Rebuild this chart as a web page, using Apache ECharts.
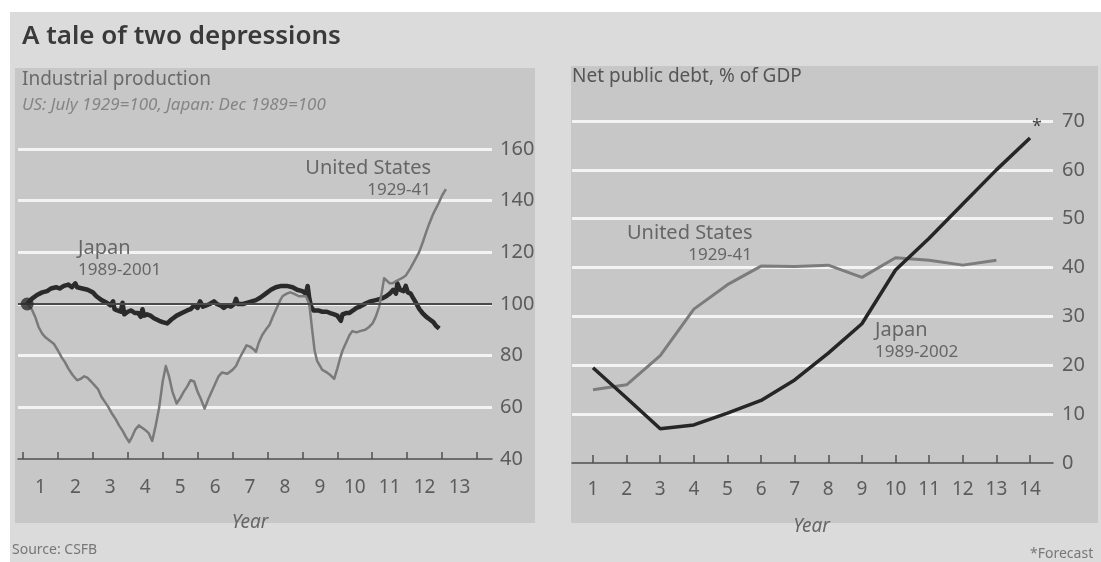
<!DOCTYPE html>
<html>
<head>
<meta charset="utf-8">
<title>A tale of two depressions</title>
<script src="https://cdn.jsdelivr.net/npm/echarts@6/dist/echarts.min.js"></script>
<style>
  html, body { margin: 0; padding: 0; background: #ffffff; }
  #chart { width: 1101px; height: 562px; }
</style>
</head>
<body>
<div id="chart"></div>
<script>
// ---- Industrial production (US: July 1929=100, Japan: Dec 1989=100) ----
const prodYearLabels = ['1', '2', '3', '4', '5', '6', '7', '8', '9', '10', '11', '12', '13'];
const prodTicks = [40, 60, 80, 100, 120, 140, 160];

// United States 1929-41, position in years and index level
const usProdYear = [0.62, 0.75, 0.85, 0.95, 1.05, 1.15, 1.25, 1.39, 1.5, 1.6, 1.7, 1.8, 1.92, 2.05, 2.15, 2.25, 2.34, 2.45, 2.55, 2.65, 2.75, 2.85, 2.95, 3.05, 3.15, 3.25, 3.35, 3.45, 3.54, 3.62, 3.72, 3.82, 3.92, 4.02, 4.1, 4.2, 4.3, 4.4, 4.5, 4.59, 4.68, 4.78, 4.9, 5.0, 5.1, 5.2, 5.3, 5.4, 5.5, 5.6, 5.7, 5.8, 5.9, 6.0, 6.1, 6.2, 6.35, 6.5, 6.6, 6.7, 6.8, 6.9, 7.0, 7.1, 7.17, 7.25, 7.35, 7.45, 7.56, 7.65, 7.75, 7.85, 7.93, 8.05, 8.15, 8.25, 8.4, 8.6, 8.7, 8.78, 8.85, 8.92, 9.07, 9.2, 9.3, 9.41, 9.5, 9.58, 9.65, 9.75, 9.85, 9.93, 10.05, 10.15, 10.3, 10.4, 10.51, 10.6, 10.7, 10.78, 10.84, 10.92, 11.0, 11.08, 11.2, 11.35, 11.46, 11.6, 11.72, 11.84, 11.95, 12.05, 12.13, 12.25, 12.4, 12.5, 12.61];
const usProdIndex = [100, 98, 95, 91, 88.5, 87, 86, 84.5, 82, 79.5, 77.5, 75, 72.5, 70.5, 71, 72, 71.5, 70, 68.5, 67, 64, 62, 60, 57.5, 55.5, 53, 51, 48.5, 46.5, 48.5, 51.5, 53, 52, 51, 50, 47, 53, 60, 70, 76, 72, 66, 61.5, 63.5, 66, 68, 70.5, 70, 66, 63, 59.5, 63, 66, 69, 72, 73.5, 73, 74.5, 76, 79, 81.5, 84, 83.5, 82.5, 81.5, 85, 88, 90, 92, 95, 98, 101, 103, 104, 104.5, 104, 103, 103, 100, 90, 82, 78, 74.5, 73.5, 72.5, 71, 75, 79, 82, 85, 88, 89.5, 89, 89.5, 90, 91, 92.5, 95, 99, 105, 110, 109, 108, 108, 109, 110, 111, 114, 117, 120, 124, 128, 131, 135, 139, 142, 144.5];

// Japan 1989-2001
const jpProdYear = [0.62, 0.75, 0.9, 1.05, 1.19, 1.3, 1.45, 1.55, 1.67, 1.8, 1.9, 2.0, 2.05, 2.2, 2.35, 2.5, 2.6, 2.75, 2.9, 3.0, 3.08, 3.12, 3.2, 3.3, 3.35, 3.4, 3.5, 3.6, 3.7, 3.8, 3.87, 3.92, 3.97, 4.05, 4.15, 4.25, 4.4, 4.5, 4.63, 4.75, 4.9, 5.05, 5.2, 5.3, 5.4, 5.5, 5.57, 5.65, 5.75, 5.85, 5.97, 6.05, 6.15, 6.25, 6.35, 6.45, 6.55, 6.6, 6.65, 6.8, 6.93, 7.05, 7.17, 7.3, 7.45, 7.6, 7.74, 7.9, 8.05, 8.22, 8.35, 8.5, 8.6, 8.65, 8.7, 8.75, 8.82, 8.95, 9.07, 9.2, 9.3, 9.41, 9.5, 9.55, 9.6, 9.65, 9.75, 9.84, 9.95, 10.05, 10.15, 10.32, 10.45, 10.6, 10.79, 10.9, 11.0, 11.1, 11.18, 11.22, 11.3, 11.4, 11.46, 11.52, 11.6, 11.65, 11.75, 11.85, 11.94, 12.05, 12.15, 12.25, 12.33, 12.42];
const jpProdIndex = [100, 102, 103.5, 104.5, 105, 106, 106.5, 106, 107, 107.5, 106.5, 108, 106.5, 106, 105.5, 104.5, 103, 101.5, 100.5, 99.5, 101, 98, 97.5, 97, 100.5, 96, 97, 97.5, 96.5, 96.5, 95, 98, 95.5, 96, 95.5, 94.5, 93.5, 93, 92.5, 94, 95.5, 96.5, 97.5, 98, 99.5, 98.5, 101, 99, 99.5, 100, 101, 100, 99.5, 98.5, 99.5, 99, 100, 102, 100, 100, 100.5, 101, 101.5, 102.5, 104, 105.5, 106.5, 107, 107, 106.5, 105.5, 105, 104, 107, 102, 99, 97.5, 97.5, 97, 97, 96.5, 96, 95.5, 95.5, 93.5, 96, 96.5, 96.5, 97.5, 98.5, 99, 100.3, 101, 101.5, 102.2, 103, 104, 105.5, 104, 108, 105.5, 105, 107, 104.5, 104, 102.8, 100.5, 98, 96.5, 95, 94, 93, 91.5, 90.5];

// ---- Net public debt, % of GDP ----
const debtYears = [1, 2, 3, 4, 5, 6, 7, 8, 9, 10, 11, 12, 13, 14];
const debtTicks = [0, 10, 20, 30, 40, 50, 60, 70];
const usDebt = [15, 16, 22, 31.5, 36.5, 40.3, 40.2, 40.5, 38, 42, 41.5, 40.5, 41.5];
const jpDebt = [19.5, 13.3, 7, 7.8, 10.2, 12.8, 17, 22.5, 28.5, 39.5, 46, 53, 60, 66.5];

const FONT = '"Noto Sans", "DejaVu Sans", sans-serif';
const labelColor = '#5c5c5c';
const noteColor = '#666666';
const gridWhite = '#f3f3f3';
const axisDark = '#505050';

const pairs = (xs, ys) => xs.map((x, i) => [x, ys[i]]);

const chart = echarts.init(document.getElementById('chart'), null, { renderer: 'canvas' });

// text placed over the plot area
const note = (x, y, text, size, align) => ({
  type: 'text', x: x, y: y, z: 100,
  style: { text: text, fill: noteColor, font: size + 'px ' + FONT, textAlign: align || 'left', textVerticalAlign: 'middle' }
});

chart.setOption({
  backgroundColor: '#dbdbdb',
  animation: false,
  graphic: [
    // page frame and panels
    { type: 'rect', z: -10, shape: { x: 0, y: 0, width: 1101, height: 12 }, style: { fill: '#ffffff' } },
    { type: 'rect', z: -10, shape: { x: 0, y: 0, width: 10, height: 562 }, style: { fill: '#ffffff' } },
    { type: 'rect', z: -9, shape: { x: 15, y: 68, width: 520, height: 455 }, style: { fill: '#c7c7c7' } },
    { type: 'rect', z: -9, shape: { x: 571, y: 66, width: 527, height: 457 }, style: { fill: '#c7c7c7' } },
    // headings
    { type: 'text', x: 22, y: 37, z: 100, style: { text: 'A tale of two depressions', fill: '#3a3a3a', font: '600 26px ' + FONT, textVerticalAlign: 'middle' } },
    { type: 'text', x: 22, y: 80, z: 100, style: { text: 'Industrial production', fill: '#6a6a6a', font: '19px ' + FONT, textVerticalAlign: 'middle' } },
    { type: 'text', x: 22, y: 105, z: 100, style: { text: 'US: July 1929=100, Japan: Dec 1989=100', fill: '#858585', font: 'italic 17px ' + FONT, textVerticalAlign: 'middle' } },
    { type: 'text', x: 572, y: 77, z: 100, style: { text: 'Net public debt, % of GDP', fill: '#555555', font: '19px ' + FONT, textVerticalAlign: 'middle' } },
    // series labels, left panel
    note(431, 168, 'United States', 20, 'right'),
    note(431, 190, '1929-41', 17, 'right'),
    note(78, 248, 'Japan', 20),
    note(78, 270, '1989-2001', 17),
    // series labels, right panel
    note(627, 233, 'United States', 20),
    note(752, 255, '1929-41', 17, 'right'),
    note(875, 330, 'Japan', 20),
    note(875, 352, '1989-2002', 17),
    // footnotes
    { type: 'text', x: 12, y: 550, z: 100, style: { text: 'Source: CSFB', fill: '#777777', font: '14px ' + FONT, textVerticalAlign: 'middle' } },
    { type: 'text', x: 1030, y: 554, z: 100, style: { text: '*Forecast', fill: '#777777', font: '14px ' + FONT, textVerticalAlign: 'middle' } }
  ],
  grid: [
    // 0: left panel, full width (gridlines, axis line, value labels)
    { left: 18, top: 149, width: 474, height: 310 },
    // 1: left panel, year ticks and data
    { left: 23, top: 149, width: 454, height: 310 },
    // 2: right panel, full width
    { left: 572, top: 121, width: 481, height: 342 },
    // 3: right panel, year ticks and data
    { left: 593, top: 121, width: 437, height: 342 }
  ],
  xAxis: [
    { gridIndex: 0, type: 'value', min: 0, max: 1, position: 'bottom',
      axisLine: { show: true, lineStyle: { color: axisDark, width: 1.5 } },
      axisTick: { show: false }, axisLabel: { show: false }, splitLine: { show: false } },
    { gridIndex: 1, type: 'category', data: prodYearLabels, boundaryGap: true, position: 'bottom',
      axisLine: { show: false },
      axisTick: { show: true, inside: true, length: 7, lineStyle: { color: axisDark, width: 1.5 } },
      axisLabel: { color: labelColor, fontSize: 19, fontFamily: FONT, margin: 19 },
      name: 'Year', nameLocation: 'middle', nameGap: 54,
      nameTextStyle: { color: '#666666', fontSize: 19, fontStyle: 'italic', fontFamily: FONT } },
    { gridIndex: 1, type: 'value', min: 0.5, max: 13.5, position: 'top', show: false },
    { gridIndex: 2, type: 'value', min: 0, max: 1, position: 'bottom',
      axisLine: { show: true, lineStyle: { color: axisDark, width: 1.5 } },
      axisTick: { show: false }, axisLabel: { show: false }, splitLine: { show: false } },
    { gridIndex: 3, type: 'value', min: 1, max: 14, interval: 1, position: 'bottom',
      axisLine: { show: false },
      axisTick: { show: true, inside: true, length: 8, lineStyle: { color: axisDark, width: 1.5 } },
      axisLabel: { color: labelColor, fontSize: 19, fontFamily: FONT, margin: 17 },
      splitLine: { show: false },
      name: 'Year', nameLocation: 'middle', nameGap: 54,
      nameTextStyle: { color: '#666666', fontSize: 19, fontStyle: 'italic', fontFamily: FONT } }
  ],
  yAxis: [
    { gridIndex: 0, type: 'value', min: prodTicks[0], max: prodTicks[prodTicks.length - 1], interval: 20, position: 'right',
      axisLine: { show: false }, axisTick: { show: false },
      axisLabel: { color: labelColor, fontSize: 20, fontFamily: FONT, margin: 8, align: 'left' },
      splitLine: { show: true, showMinLine: false, lineStyle: { color: gridWhite, width: 3 } } },
    { gridIndex: 1, type: 'value', min: prodTicks[0], max: prodTicks[prodTicks.length - 1], show: false, splitLine: { show: false } },
    { gridIndex: 2, type: 'value', min: debtTicks[0], max: debtTicks[debtTicks.length - 1], interval: 10, position: 'right',
      axisLine: { show: false }, axisTick: { show: false },
      axisLabel: { color: labelColor, fontSize: 20, fontFamily: FONT, margin: 9, align: 'left' },
      splitLine: { show: true, showMinLine: false, lineStyle: { color: gridWhite, width: 3 } } },
    { gridIndex: 3, type: 'value', min: debtTicks[0], max: debtTicks[debtTicks.length - 1], show: false, splitLine: { show: false } }
  ],
  series: [
    // base level 100 reference line
    { type: 'line', xAxisIndex: 0, yAxisIndex: 0, data: [], silent: true,
      markLine: { silent: true, symbol: 'none', label: { show: false },
        lineStyle: { color: '#4a4a4a', width: 2, type: 'solid' }, data: [{ yAxis: 100 }] } },
    { name: 'Japan', type: 'line', xAxisIndex: 2, yAxisIndex: 1, showSymbol: false, z: 3,
      data: pairs(jpProdYear, jpProdIndex),
      lineStyle: { color: '#2a2a2a', width: 4.5, join: 'round' } },
    { name: 'United States', type: 'line', xAxisIndex: 2, yAxisIndex: 1, showSymbol: false, z: 4,
      data: pairs(usProdYear, usProdIndex),
      lineStyle: { color: '#7a7a7a', width: 2.5, join: 'round' } },
    // common starting point
    { type: 'scatter', xAxisIndex: 2, yAxisIndex: 1, z: 5, symbolSize: 13,
      data: [[jpProdYear[0], jpProdIndex[0]]], itemStyle: { color: '#2a2a2a' } },
    // net public debt
    { name: 'United States', type: 'line', xAxisIndex: 4, yAxisIndex: 3, showSymbol: false, z: 3,
      data: pairs(debtYears.slice(0, usDebt.length), usDebt),
      lineStyle: { color: '#7c7c7c', width: 3 } },
    { name: 'Japan', type: 'line', xAxisIndex: 4, yAxisIndex: 3, showSymbol: false, z: 4,
      data: pairs(debtYears, jpDebt),
      lineStyle: { color: '#262626', width: 3.5 },
      // final year is a forecast
      endLabel: { show: true, formatter: '*', distance: 2, offset: [0, -11], color: '#444444', fontSize: 18, fontFamily: FONT } }
  ]
});
</script>
</body>
</html>
